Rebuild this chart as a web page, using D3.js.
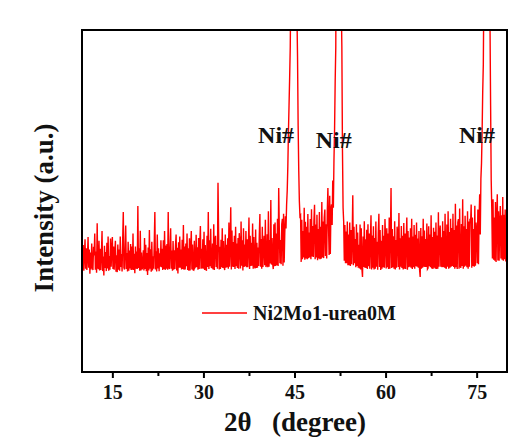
<!DOCTYPE html>
<html>
<head>
<meta charset="utf-8">
<script src="https://cdn.jsdelivr.net/npm/d3@7"></script>
<style>
  html, body { margin: 0; padding: 0; background: #ffffff; }
  svg { display: block; }
</style>
</head>
<body>
<svg id="chart" width="526" height="443"></svg>
<script>
// XRD scan: 2θ from 10° to 80° in 0.1° steps
const scanStart = 10;
const scanStep = 0.1;
const intensity = [
  352, 300, 371, 296, 344, 388, 302, 362, 298, 340,
  395, 305, 358, 287, 349, 300, 376, 310, 298, 366,
  341, 405, 299, 352, 290, 435, 306, 301, 384, 297,
  360, 298, 347, 412, 295, 338, 282, 369, 304, 351,
  295, 378, 303, 396, 296, 339, 299, 390, 308, 356,
  395, 301, 367, 299, 350, 384, 293, 341, 292, 373,
  299, 358, 296, 396, 307, 345, 294, 388, 468, 305,
  300, 362, 428, 301, 348, 294, 381, 296, 355, 303,
  374, 298, 367, 299, 405, 298, 346, 289, 367, 302,
  352, 301, 485, 304, 362, 296, 413, 297, 349, 300,
  308, 356, 297, 392, 301, 372, 295, 348, 284, 364,
  297, 415, 302, 359, 293, 381, 297, 338, 302, 376,
  468, 300, 353, 294, 402, 303, 362, 295, 347, 308,
  385, 306, 360, 298, 385, 301, 412, 298, 370, 302,
  374, 299, 468, 306, 301, 368, 420, 302, 355, 296,
  383, 299, 356, 301, 370, 402, 297, 363, 288, 379,
  305, 396, 305, 358, 300, 387, 301, 430, 299, 367,
  300, 376, 309, 405, 298, 362, 296, 391, 297, 358,
  412, 300, 373, 299, 298, 384, 305, 308, 401, 306,
  365, 299, 392, 301, 376, 427, 302, 360, 303, 388,
  302, 410, 298, 371, 302, 296, 398, 307, 468, 301,
  385, 309, 419, 306, 305, 376, 300, 432, 298, 384,
  398, 307, 371, 302, 553, 409, 300, 366, 301, 387,
  306, 420, 304, 383, 307, 298, 402, 305, 372, 306,
  391, 302, 437, 308, 369, 482, 300, 414, 308, 380,
  307, 398, 301, 425, 309, 376, 304, 392, 302, 406,
  368, 303, 440, 311, 385, 297, 420, 307, 373, 309,
  412, 306, 388, 306, 365, 452, 301, 398, 310, 378,
  311, 434, 302, 395, 310, 303, 417, 304, 378, 305,
  364, 310, 400, 462, 308, 389, 302, 425, 307, 371,
  398, 312, 445, 307, 315, 403, 306, 470, 308, 386,
  317, 503, 314, 392, 318, 301, 432, 309, 437, 310,
  405, 312, 448, 310, 538, 413, 318, 386, 315, 432,
  448, 311, 463, 320, 407, 455, 420, 490, 530, 600,
  700, 780, 860, 950, 1150, 1600, 2400, 3200, 3500, 3400,
  3000, 2400, 1800, 1300, 1050, 920, 720, 590, 500, 455,
  458, 322, 445, 330, 412, 335, 480, 328, 439, 332,
  425, 330, 462, 333, 408, 335, 447, 330, 476, 338,
  427, 336, 442, 489, 330, 431, 335, 460, 327, 418,
  332, 468, 330, 425, 331, 497, 335, 440, 333, 452,
  475, 339, 432, 332, 470, 538, 430, 342, 515, 345,
  475, 490, 430, 560, 480, 620, 710, 850, 950, 1500,
  2400, 3100, 3400, 3200, 2500, 1700, 1250, 1080, 950, 650,
  480, 440, 325, 430, 318, 411, 318, 440, 312, 402,
  312, 437, 310, 415, 315, 394, 517, 312, 425, 318,
  389, 306, 432, 310, 408, 305, 372, 303, 431, 300,
  420, 303, 278, 396, 307, 441, 305, 388, 304, 416,
  301, 432, 309, 405, 302, 387, 458, 300, 399, 305,
  426, 300, 392, 302, 440, 308, 381, 299, 407, 463,
  307, 415, 298, 384, 302, 430, 306, 398, 305, 447,
  389, 303, 420, 306, 405, 301, 452, 302, 400, 538,
  304, 418, 306, 397, 302, 441, 300, 386, 305, 425,
  402, 307, 465, 300, 391, 308, 427, 304, 398, 300,
  436, 302, 405, 301, 384, 452, 299, 412, 306, 393,
  308, 420, 305, 448, 301, 396, 306, 430, 302, 401,
  309, 437, 308, 390, 305, 412, 300, 278, 421, 302,
  397, 305, 448, 308, 414, 307, 389, 307, 434, 301,
  304, 426, 309, 402, 306, 458, 303, 395, 301, 422,
  305, 410, 302, 437, 301, 399, 302, 467, 308, 405,
  428, 308, 394, 306, 441, 307, 412, 305, 463, 306,
  302, 431, 308, 470, 302, 409, 305, 448, 308, 421,
  310, 463, 307, 415, 302, 492, 306, 428, 301, 438,
  447, 302, 478, 309, 305, 433, 310, 505, 302, 426,
  308, 457, 311, 418, 306, 470, 302, 440, 308, 448,
  435, 490, 305, 452, 310, 418, 308, 486, 311, 437,
  412, 318, 475, 315, 448, 520, 402, 565, 610, 700,
  820, 900, 1150, 1700, 2500, 3000, 3300, 3200, 2800, 2200,
  1600, 1250, 1020, 780, 560, 470, 332, 505, 328, 452,
  325, 497, 322, 448, 520, 326, 470, 325, 430, 485,
  332, 458, 328, 512, 325, 460, 330, 475, 323, 440,
  438
];

// Axis settings
const xDomain = [10, 80];
const yDomain = [0, 1000];
const majorTicks = [15, 30, 45, 60, 75];
const minorTicks = [22.5, 37.5, 52.5, 67.5];

// Peak annotations: 2θ and intensity where each label sits
const peakLabelX = [39.0, 48.5, 72.1];
const peakLabelY = [670, 655, 670];
const peakLabelText = ["Ni#", "Ni#", "Ni#"];

const seriesName = "Ni2Mo1-urea0M";
const xTitle = "2θ   (degree)";
const yTitle = "Intensity (a.u.)";

const serif = "'Liberation Serif', 'Times New Roman', serif";

const svg = d3.select("#chart");
const plot = { left: 82, top: 30, right: 507, bottom: 372 };

const x = d3.scaleLinear().domain(xDomain).range([plot.left, plot.right]);
const y = d3.scaleLinear().domain(yDomain).range([plot.bottom, plot.top]);

const points = intensity.map((v, i) => ({ t: scanStart + i * scanStep, v }));

svg.append("defs").append("clipPath").attr("id", "plotClip")
  .append("rect")
  .attr("x", plot.left).attr("y", plot.top)
  .attr("width", plot.right - plot.left).attr("height", plot.bottom - plot.top);

// Diffraction pattern
const line = d3.line().x(d => x(d.t)).y(d => y(d.v));
svg.append("path")
  .datum(points)
  .attr("clip-path", "url(#plotClip)")
  .attr("fill", "none")
  .attr("stroke", "#ff0000")
  .attr("stroke-width", 1.4)
  .attr("stroke-linejoin", "miter")
  .attr("d", line);

// Peak labels
svg.append("g").selectAll("text")
  .data(peakLabelText)
  .join("text")
  .attr("x", (d, i) => x(peakLabelX[i]))
  .attr("y", (d, i) => y(peakLabelY[i]))
  .attr("font-family", serif)
  .attr("font-weight", "bold")
  .attr("font-size", 24)
  .attr("fill", "#111")
  .text(d => d);

// Frame
svg.append("rect")
  .attr("x", plot.left).attr("y", plot.top)
  .attr("width", plot.right - plot.left).attr("height", plot.bottom - plot.top)
  .attr("fill", "none")
  .attr("stroke", "#000")
  .attr("stroke-width", 2);

// Bottom axis: major ticks with labels, minor ticks without
const xAxis = svg.append("g")
  .attr("transform", `translate(0,${plot.bottom})`)
  .call(d3.axisBottom(x).tickValues(majorTicks).tickSize(6).tickPadding(7).tickFormat(d3.format("d")));
xAxis.select(".domain").remove();
xAxis.selectAll(".tick line").attr("stroke", "#000").attr("stroke-width", 2);
xAxis.selectAll(".tick text")
  .attr("font-family", serif)
  .attr("font-weight", "bold")
  .attr("font-size", 20)
  .attr("fill", "#111");

const xMinor = svg.append("g")
  .attr("transform", `translate(0,${plot.bottom})`)
  .call(d3.axisBottom(x).tickValues(minorTicks).tickSize(4).tickFormat(""));
xMinor.select(".domain").remove();
xMinor.selectAll(".tick line").attr("stroke", "#000").attr("stroke-width", 2);

// Axis titles
svg.append("text")
  .attr("x", 295)
  .attr("y", 431)
  .attr("text-anchor", "middle")
  .attr("font-family", serif)
  .attr("font-weight", "bold")
  .attr("font-size", 27)
  .attr("fill", "#111")
  .style("white-space", "pre")
  .text(xTitle);

svg.append("text")
  .attr("transform", `translate(53,208) rotate(-90)`)
  .attr("text-anchor", "middle")
  .attr("font-family", serif)
  .attr("font-weight", "bold")
  .attr("font-size", 27)
  .attr("fill", "#111")
  .text(yTitle);

// Legend
const legend = svg.append("g");
legend.append("line")
  .attr("x1", 202).attr("x2", 247)
  .attr("y1", 313).attr("y2", 313)
  .attr("stroke", "#ff0000")
  .attr("stroke-width", 1.5);
legend.append("text")
  .attr("x", 253).attr("y", 320)
  .attr("font-family", serif)
  .attr("font-weight", "bold")
  .attr("font-size", 20)
  .attr("fill", "#111")
  .text(seriesName);
</script>
</body>
</html>
